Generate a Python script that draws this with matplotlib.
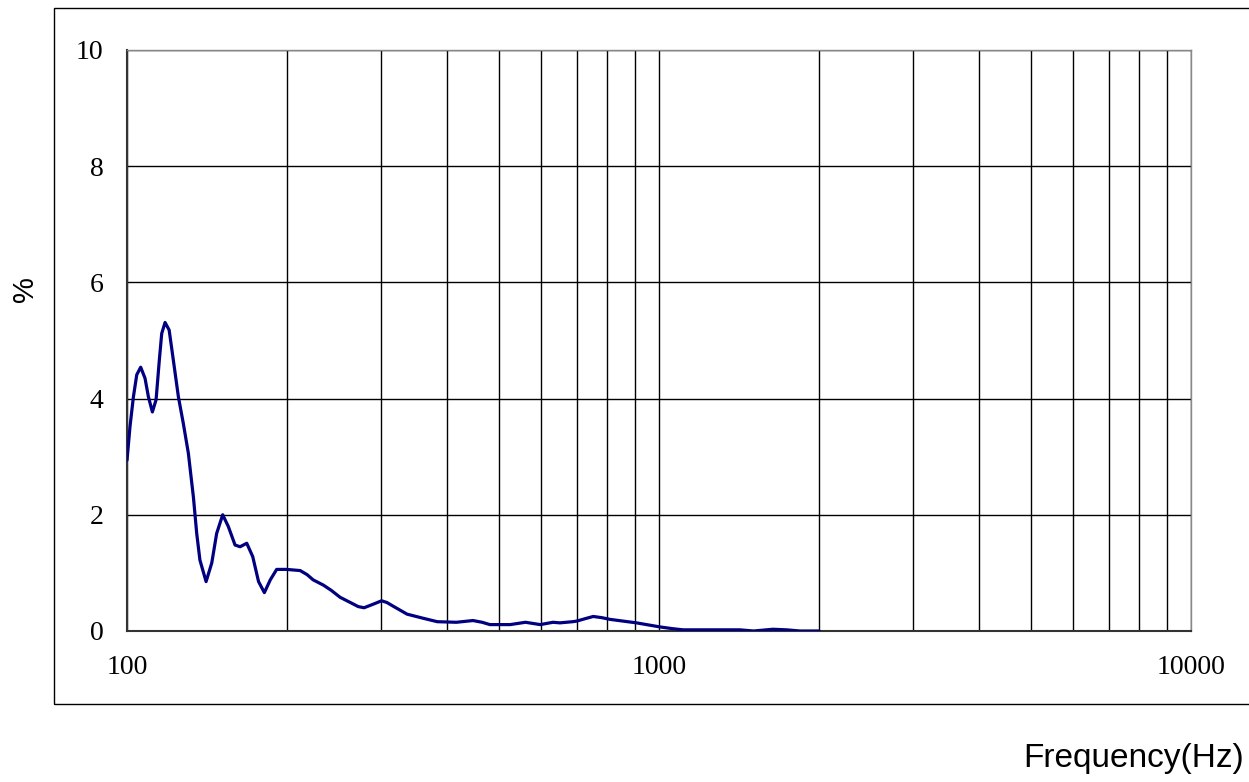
import numpy as np
import matplotlib.pyplot as plt
from matplotlib.patches import Rectangle

# distortion curve (Hz, %)
freq = [100, 101.3, 102.8, 104.3, 106.1, 108.1, 109.7, 111.6, 113.4, 115.0,
        116.2, 117.9, 120.0, 122.2, 124.9, 127.6, 130.4, 133.3, 135.2, 137.1,
        140.8, 144.3, 147.4, 151.3, 155.0, 159.6, 163.1, 167.9, 172.3, 176.7,
        181.2, 185.9, 191.1, 199.6, 211.6, 218, 223.8, 233.9, 242, 251.5,
        264.2, 272, 279, 290, 301, 308, 316, 336, 360, 383, 416, 447, 465,
        481, 525, 561, 598, 632, 651, 688, 700, 725, 752, 780, 809, 907,
        1004, 1060, 1110, 1418, 1506, 1637, 1737, 1840, 2000]
pct = [2.94, 3.52, 4.03, 4.41, 4.54, 4.35, 4.03, 3.77, 3.98, 4.66,
       5.12, 5.31, 5.18, 4.66, 4.03, 3.57, 3.06, 2.30, 1.68, 1.22,
       0.85, 1.17, 1.68, 2.0, 1.80, 1.48, 1.45, 1.51, 1.28, 0.85,
       0.66, 0.88, 1.06, 1.06, 1.04, 0.97, 0.88, 0.79, 0.70, 0.58,
       0.48, 0.42, 0.40, 0.46, 0.52, 0.49, 0.43, 0.29, 0.22, 0.16, 0.15, 0.18, 0.15,
       0.11, 0.11, 0.15, 0.11, 0.15, 0.14, 0.16, 0.17, 0.21, 0.25, 0.23, 0.2, 0.14,
       0.07, 0.04, 0.02, 0.02, 0.0, 0.03, 0.02, 0.0, 0.0]

xticks = [100, 1000, 10000]
yticks = [0, 2, 4, 6, 8, 10]

fig = plt.figure(figsize=(12.49, 7.82), dpi=100)

# outer frame around the plot
fig.patches.append(Rectangle((0.0432, 0.0997), 1.0, 0.8901, transform=fig.transFigure,
                             fill=False, edgecolor='black', linewidth=1.0))

ax = fig.add_axes([0.1017, 0.1931, 0.8519, 0.7430])
ax.plot(freq, pct, color='#000080', linewidth=2.3, zorder=3,
        solid_joinstyle='round', solid_capstyle='round')

ax.set_xscale('log')
ax.set_xlim(100, 10000)
ax.set_ylim(0, 10)
ax.set_xticks(xticks)
ax.set_xticklabels([str(t) for t in xticks])
ax.set_yticks(yticks)
ax.xaxis.set_minor_formatter(plt.NullFormatter())
ax.tick_params(which='both', length=0)
ax.tick_params(axis='x', pad=17, labelsize=20)
ax.tick_params(axis='y', pad=17, labelsize=20)
for lab in ax.get_xticklabels() + ax.get_yticklabels():
    lab.set_family('Liberation Serif')

ax.grid(True, which='both', axis='x', color='black', linewidth=1.0)
ax.grid(True, which='major', axis='y', color='black', linewidth=1.0)

for s in ['left', 'bottom']:
    ax.spines[s].set_color('#333333')
    ax.spines[s].set_linewidth(1.5)
for s in ['top', 'right']:
    ax.spines[s].set_color('#888888')
    ax.spines[s].set_linewidth(1.0)

fig.text(0.020, 0.63, '%', rotation=90, fontsize=21, family='Liberation Sans',
         ha='center', va='center')
fig.text(0.819, 0.019, 'Frequency(Hz)', fontsize=24, family='Liberation Sans',
         ha='left', va='baseline')

fig.savefig('out.png', dpi=100)
